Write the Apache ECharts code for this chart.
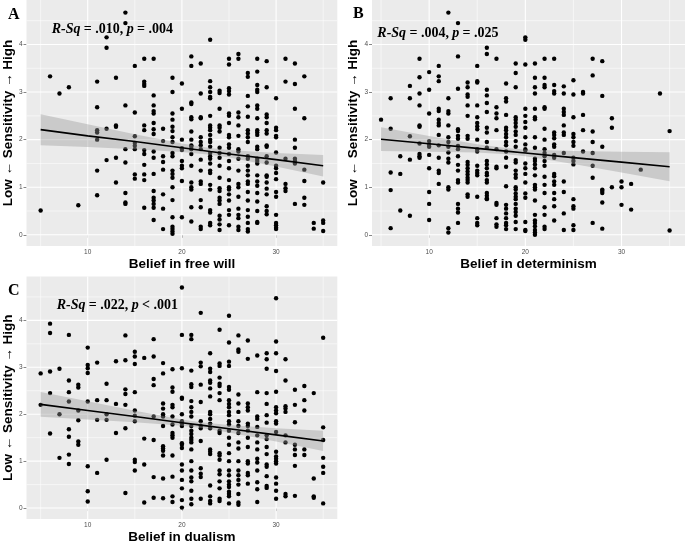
<!DOCTYPE html>
<html><head><meta charset="utf-8">
<script src="https://cdn.jsdelivr.net/npm/echarts@6/dist/echarts.min.js"></script>
<style>html,body{margin:0;padding:0;background:#fff}#c{width:685px;height:545px}</style>
</head><body><div id="c"></div><script>
// ---------- data ----------
const beliefScores = [5,6,7,8,9,10,11,12,13,14,15,16,17,18,19,20,21,22,23,24,25,26,27,28,29,30,31,32,33,34,35];

const freeWillSens = [
 [0.51],[3.33],[2.97],[3.10],[0.62],[],
 [3.22,2.68,2.20,2.15,2.00,1.35,0.83],
 [4.15,3.93,2.23,1.57],
 [3.30,2.30,2.27,1.62,1.10],
 [4.67,4.45,2.72,1.80,1.52,0.88,0.68,0.65],
 [3.55,2.57,2.07,1.93,1.87,1.80,1.27,1.18],
 [3.70,3.22,3.17,3.13,2.30,2.20,1.78,1.70,1.47,1.27,1.15,0.57],
 [3.70,2.93,2.72,2.60,2.55,2.35,2.22,2.12,1.75,1.62,1.28,0.92,0.78,0.72,0.65,0.57,0.31],
 [2.23,1.97,1.65,1.53,1.37,0.85,0.55,0.12],
 [3.30,3.00,2.55,2.42,2.27,2.18,2.05,1.95,1.72,1.65,1.35,1.28,1.20,1.00,0.73,0.37,0.17,0.12,0.07,0.02],
 [3.18,2.65,2.00,1.82,1.78,1.55,1.45,1.40,1.13,0.37],
 [3.75,3.55,2.78,2.75,2.47,2.43,2.17,2.00,1.88,1.85,1.80,1.70,1.45,1.10,1.00,0.95,0.58,0.28],
 [3.60,2.97,2.47,2.45,2.05,1.95,1.88,1.80,1.58,1.35,1.12,1.07,0.73,0.58,0.17,0.12],
 [4.10,3.23,3.10,3.00,2.90,2.87,2.50,2.30,2.25,2.20,2.10,2.00,1.95,1.85,1.72,1.65,1.60,1.50,1.35,1.30,1.05,0.95,0.52,0.47,0.25,0.20],
 [3.03,2.98,2.65,2.30,2.25,2.17,1.83,1.72,1.62,1.45,1.20,0.98,0.92,0.78,0.72,0.65,0.40,0.32,0.22,0.10],
 [3.70,3.58,3.08,3.02,2.95,2.55,2.50,2.35,2.10,2.05,1.90,1.83,1.70,1.55,1.40,1.15,1.00,0.95,0.85,0.72,0.52,0.42,0.20],
 [3.80,3.70,2.57,2.47,2.30,2.08,1.80,1.75,1.60,1.35,1.07,1.00,0.80,0.55,0.42,0.35,0.17,0.10],
 [3.40,3.32,2.92,2.70,2.48,2.20,2.13,2.05,1.95,1.65,1.60,1.45,1.35,1.25,1.12,1.07,0.90,0.72,0.52,0.38,0.25,0.12,0.07],
 [3.70,3.43,3.15,3.05,3.00,2.72,2.65,2.45,2.20,2.15,2.10,1.85,1.80,1.60,1.55,1.50,1.25,1.12,1.03,0.88,0.70,0.50,0.27,0.25],
 [3.65,3.10,2.53,2.47,2.35,2.20,2.13,1.88,1.85,1.65,1.52,1.25,1.22,1.10,0.97,0.85,0.60,0.50,0.43],
 [2.87,2.25,2.20,2.08,2.05,1.73,1.45,1.40,1.30,1.17,0.90,0.80,0.42,0.25,0.20,0.15,0.12],
 [3.70,3.22,1.60,1.07,0.98,0.92],
 [3.60,3.17,2.65,2.00,1.83,1.60,1.55,1.50,0.65],
 [3.33,2.45,1.37,1.13,0.78,0.63],
 [0.25,0.13],
 [1.10,0.30,0.25,0.08]
];

const determinismSens = [
 [2.42],
 [2.87,2.23,1.31,0.94,0.14],
 [1.65,1.28,0.51],
 [3.13,2.87,2.07,1.58,0.40],
 [3.70,3.31,2.97,2.72,2.30,2.27,1.92,1.70,1.65,1.62],
 [3.42,3.05,2.55,1.97,1.90,1.85,1.68,1.40,0.90,0.65,0.31],
 [3.55,3.33,3.23,2.65,2.60,2.42,2.35,2.30,2.10,1.88,1.62,1.35,1.30,1.07],
 [4.67,2.87,2.60,2.55,2.30,2.05,1.95,1.85,1.73,1.60,1.52,1.00,0.95,0.14,0.05],
 [4.45,3.75,3.07,2.22,2.18,2.08,2.02,1.87,1.80,1.65,1.47,1.35,1.15,1.10,0.65,0.55,0.47,0.25],
 [3.20,3.10,2.95,2.90,2.72,2.50,2.08,2.02,1.53,1.47,1.40,1.33,1.27,1.20,1.15,1.10,0.85,0.80],
 [3.55,3.23,3.20,2.72,2.47,2.35,2.28,2.22,2.00,1.80,1.75,1.45,1.35,1.30,1.25,0.80,0.35,0.25,0.20],
 [3.93,3.80,3.05,2.93,2.77,2.58,2.25,2.15,1.95,1.83,1.55,1.48,1.40,1.30,1.25,1.15,1.10,0.88,0.82,0.77,0.75],
 [3.70,2.68,2.55,2.45,2.20,1.80,1.43,1.40,0.67,0.63,0.35,0.22,0.17],
 [3.18,2.87,2.80,2.52,2.25,2.20,2.12,2.05,1.95,1.88,1.75,1.62,1.43,1.02,0.63,0.55,0.45,0.35,0.25,0.20,0.12],
 [3.60,3.40,3.10,2.47,2.42,2.35,2.27,2.17,2.10,1.97,1.85,1.57,1.52,1.35,1.27,1.20,1.00,0.95,0.87,0.80,0.75,0.65,0.55,0.48,0.40,0.27,0.12],
 [4.15,4.10,3.58,2.65,2.50,2.37,2.25,2.05,1.90,1.80,1.77,1.50,1.40,1.28,1.10,0.87,0.78,0.27,0.10,0.08],
 [3.60,3.30,3.10,2.97,2.65,2.47,2.43,2.05,1.83,1.60,1.55,1.48,1.40,1.25,1.05,1.00,0.95,0.72,0.42,0.30,0.25,0.18,0.10,0.05,0.00],
 [3.70,3.30,3.15,3.10,2.68,2.65,2.23,2.00,1.80,1.72,1.65,1.55,1.45,1.22,1.05,0.88,0.58,0.42,0.17,0.12],
 [3.70,3.15,3.02,2.97,2.15,2.10,2.03,1.90,1.85,1.68,1.62,1.28,1.23,1.12,1.05,0.88,0.75,0.60,0.30],
 [3.12,2.97,2.65,2.58,2.52,2.30,2.15,2.10,1.72,1.12,0.90,0.45,0.10],
 [3.25,2.95,2.47,2.12,2.05,1.95,1.87,1.62,1.55,1.48,0.75,0.60,0.55,0.20,0.10],
 [3.00,2.97,2.52,2.20,1.75],
 [3.70,3.35,2.17,1.95,1.72,1.45,1.20,0.25],
 [3.65,2.92,1.85,0.95,0.92,0.88,0.68,0.13],
 [2.45,2.25,1.00],
 [1.12,1.00,0.63],
 [1.07,0.53],
 [1.37],
 [],
 [2.97],
 [2.18,0.09]
];

const dualismSens = [
 [2.87,2.20],
 [3.93,3.73,2.91,2.45,1.59],
 [2.97,2.00,1.07],
 [3.69,2.72,2.47,2.27,1.68,1.52,1.14,0.94],
 [2.63,2.57,2.08,1.87,1.42,1.35],
 [3.42,3.05,2.98,2.88,2.27,0.89,0.36,0.14],
 [3.10,2.30,1.88,0.75],
 [2.65,2.30,2.00,1.88,1.03],
 [3.13,2.22,1.60],
 [3.68,3.15,2.53,2.43,2.20,1.70,0.32],
 [3.33,3.23,3.07,2.47,2.08,1.97,1.85,1.03,0.98,0.80],
 [3.20,1.48,0.93,0.12],
 [3.60,3.23,2.75,2.62,1.95,1.45,0.66,0.22],
 [3.09,2.87,2.23,2.12,2.00,1.95,1.75,1.32,1.27,1.22,1.12,0.63,0.21],
 [2.96,2.57,2.48,2.20,2.15,1.95,1.78,1.60,1.55,1.50,1.12,0.67,0.25,0.13],
 [4.70,3.69,2.98,2.35,2.33,2.00,1.85,1.80,1.75,1.38,1.35,1.28,0.93,0.80,0.60,0.42,0.17,0.01],
 [3.69,3.60,2.93,2.64,2.58,2.28,2.15,2.05,1.95,1.75,1.65,1.58,1.50,1.45,1.40,1.25,1.00,0.80,0.65,0.57,0.37,0.20,0.08],
 [4.16,3.10,3.02,2.63,2.26,1.85,1.75,1.70,1.43,0.85,0.73,0.66,0.20],
 [3.30,2.97,2.90,2.72,2.67,2.55,2.38,2.05,2.00,1.90,1.80,1.70,1.25,1.20,1.15,0.48,0.25,0.15,0.10],
 [3.80,3.08,3.03,2.78,2.65,2.60,2.45,2.30,1.65,1.60,1.17,1.12,1.03,0.80,0.72,0.57,0.42,0.20,0.15],
 [4.10,3.53,3.12,3.03,2.58,2.52,2.30,2.22,2.15,2.05,1.98,1.85,1.78,1.65,1.50,1.35,1.17,1.00,0.80,0.70,0.57,0.50,0.45,0.35,0.30,0.25,0.10],
 [3.68,3.38,3.33,2.42,2.23,2.05,1.85,1.75,1.60,1.40,1.27,1.00,0.80,0.70,0.60,0.50,0.30,0.12,0.07],
 [3.57,3.18,2.23,2.15,2.08,1.80,1.75,1.65,1.50,1.30,1.00,0.95,0.75,0.70,0.52],
 [3.25,2.47,1.95,1.90,1.73,1.55,1.40,1.25,1.05,0.97,0.80,0.55,0.40,0.13],
 [3.30,3.17,2.97,2.45,2.22,1.98,1.82,1.55,1.47,1.30,1.15,0.93,0.88,0.68,0.47,0.43],
 [4.47,3.55,3.30,2.92,2.48,2.15,2.08,2.02,1.85,1.80,1.62,1.20,1.10,1.05,1.00,0.95,0.65,0.52,0.37,0.20],
 [3.17,2.72,2.17,2.12,2.05,1.55,1.40,0.30,0.25],
 [2.52,2.20,1.83,1.35,1.25,1.13,0.90,0.26],
 [2.60,2.30,2.08,1.25,1.13],
 [2.45,0.63,0.25,0.22],
 [3.63,1.72,1.45,1.07,0.88,0.75,0.10]
];

// fitted regression lines and 95% confidence bands
const fitXA = [5,10,15,20,23,25,30,35];
const fitA  = [2.21,2.08,1.96,1.83,1.75,1.70,1.58,1.45];
const loA   = [1.885,1.844,1.80,1.743,1.684,1.624,1.434,1.224];
const hiA   = [2.535,2.322,2.114,1.917,1.824,1.782,1.722,1.676];

const fitXB = [5,10,15,18,20,25,30,35];
const fitB  = [2.01,1.913,1.817,1.758,1.72,1.623,1.527,1.43];
const loB   = [1.76,1.748,1.728,1.693,1.649,1.488,1.308,1.124];
const hiB   = [2.26,2.078,1.906,1.823,1.791,1.759,1.746,1.736];

const fitXC = [5,10,15,20,22,25,30,35];
const fitC  = [2.21,2.08,1.95,1.82,1.768,1.69,1.56,1.43];
const loC   = [1.947,1.886,1.828,1.754,1.708,1.612,1.418,1.214];
const hiC   = [2.473,2.274,2.072,1.886,1.828,1.768,1.702,1.646];

// ticks / text
const xTicks = [10,20,30];
const xMinor = [5,15,25,35];
const yTicks = [0,1,2,3,4];
const yMinor = [0.5,1.5,2.5,3.5,4.5];
const xTitles = ['Belief in free will','Belief in determinism','Belief in dualism'];
const yTitle = 'Low \u2190 Sensitivity \u2192 High';
const panelLetters = ['A','B','C'];
const rsqText = ['.010','.004','.022'];
const pText = ['= .004','= .025','< .001'];

// ---------- layout ----------
const Y_MIN = -0.235, Y_MAX = 4.935;
const xRange = [[3.5, 36.5],[4.06, 36.6],[3.5, 36.5]];
const grids = [
  {left: 21, top: 0, width: 316.3, height: 246},
  {left: 372, top: 0, width: 313, height: 246},
  {left: 21, top: 276.5, width: 316.3, height: 246}
];
const yNameGap = [7, 11, 7];
const letterPos = [[8, 14.7],[353, 13.8],[8, 291]];
const annPos = [[51.7, 29],[377.3, 33],[56.7, 305]];

function pairs(cols){
  const out = [];
  cols.forEach((ys, i) => ys.forEach(y => out.push([beliefScores[i], y])));
  return out;
}
const panels = [
  {pts: pairs(freeWillSens), fx: fitXA, fit: fitA, lo: loA, hi: hiA},
  {pts: pairs(determinismSens), fx: fitXB, fit: fitB, lo: loB, hi: hiB},
  {pts: pairs(dualismSens), fx: fitXC, fit: fitC, lo: loC, hi: hiC}
];
const gridData = [];
xTicks.forEach(v => gridData.push([v, 0, 1]));
xMinor.forEach(v => gridData.push([v, 0, 0]));
yTicks.forEach(v => gridData.push([v, 1, 1]));
yMinor.forEach(v => gridData.push([v, 1, 0]));

const chart = echarts.init(document.getElementById('c'), null, {renderer: 'canvas'});
const option = {
  backgroundColor: '#ffffff',
  animation: false,
  grid: grids.map(g => Object.assign({show: true, backgroundColor: '#EBEBEB', borderWidth: 0, containLabel: false}, g)),
  xAxis: grids.map((g, i) => ({
    gridIndex: i, type: 'value', min: xRange[i][0], max: xRange[i][1],
    axisLine: {show: false}, splitLine: {show: false},
    axisTick: {show: true, customValues: xTicks, length: 3, lineStyle: {color: '#333', width: 0.6}},
    axisLabel: {customValues: xTicks, fontSize: 6.5, color: '#4d4d4d', margin: 3, fontFamily: 'Liberation Sans'},
    name: xTitles[i], nameLocation: 'middle', nameGap: 9,
    nameTextStyle: {fontWeight: 'bold', fontSize: 13.5, color: '#000', fontFamily: 'Liberation Sans', verticalAlign: 'top'}
  })),
  yAxis: grids.map((g, i) => ({
    gridIndex: i, type: 'value', min: Y_MIN, max: Y_MAX,
    axisLine: {show: false}, splitLine: {show: false},
    axisTick: {show: true, customValues: yTicks, length: 3, lineStyle: {color: '#333', width: 0.6}},
    axisLabel: {customValues: yTicks, fontSize: 6.5, color: '#4d4d4d', margin: 4, fontFamily: 'Liberation Sans'},
    name: yTitle, nameLocation: 'middle', nameGap: yNameGap[i], nameRotate: 90,
    nameTextStyle: {fontWeight: 'bold', fontSize: 13.5, color: '#000', fontFamily: 'Liberation Sans', verticalAlign: 'bottom'}
  })),
  series: [],
  graphic: []
};

panels.forEach((p, i) => {
  const xmin = xRange[i][0], xmax = xRange[i][1];
  option.series.push({
    type: 'custom', xAxisIndex: i, yAxisIndex: i, z: 1, silent: true, clip: false,
    data: gridData,
    renderItem: (params, api) => {
      const v = api.value(0), o = api.value(1), m = api.value(2);
      const a = o === 0 ? api.coord([v, Y_MIN]) : api.coord([xmin, v]);
      const b = o === 0 ? api.coord([v, Y_MAX]) : api.coord([xmax, v]);
      return {type: 'line', shape: {x1: a[0], y1: a[1], x2: b[0], y2: b[1]},
              style: {stroke: '#ffffff', lineWidth: m ? 1.1 : 0.55}};
    }
  });
  option.series.push({
    type: 'scatter', xAxisIndex: i, yAxisIndex: i, z: 2, silent: true,
    data: p.pts, symbolSize: 4.4, itemStyle: {color: '#000', opacity: 1}
  });
  const band = p.fx.map((x, k) => [x, p.lo[k], p.hi[k]]);
  option.series.push({
    type: 'custom', xAxisIndex: i, yAxisIndex: i, z: 3, silent: true,
    data: band,
    encode: {x: 0, y: [1, 2]},
    renderItem: (params, api) => {
      if (params.dataIndex !== 0) return null;
      const up = band.map(d => api.coord([d[0], d[2]]));
      const dn = band.map(d => api.coord([d[0], d[1]])).reverse();
      return {type: 'polygon', shape: {points: up.concat(dn)},
              style: {fill: 'rgba(153,153,153,0.4)', stroke: null}};
    }
  });
  option.series.push({
    type: 'line', xAxisIndex: i, yAxisIndex: i, z: 4, silent: true,
    data: p.fx.map((x, k) => [x, p.fit[k]]), symbol: 'none',
    lineStyle: {color: '#000', width: 1.6}
  });
  option.graphic.push({
    type: 'text', left: letterPos[i][0], top: letterPos[i][1] - 8, z: 10,
    style: {text: panelLetters[i], font: 'bold 16px "Liberation Serif"', fill: '#000'}
  });
  option.graphic.push({
    type: 'text', x: annPos[i][0], y: annPos[i][1], z: 10,
    style: {
      text: '{i|R-Sq} {b|= ' + rsqText[i] + ',} {i|p} {b|' + pText[i] + '}',
      verticalAlign: 'middle', align: 'left',
      rich: {
        i: {fontFamily: 'Liberation Serif', fontStyle: 'italic', fontWeight: 'bold', fontSize: 14, color: '#222'},
        b: {fontFamily: 'Liberation Serif', fontWeight: 'bold', fontSize: 14, color: '#222'}
      }
    }
  });
});

chart.setOption(option);
</script></body></html>
